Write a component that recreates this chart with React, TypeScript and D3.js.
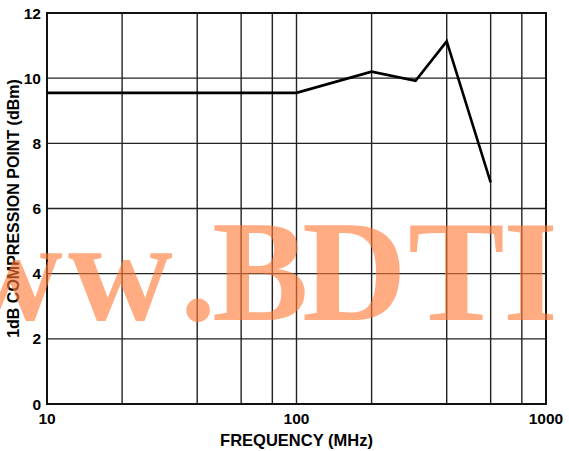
import React, { useEffect, useRef } from "react";
import * as d3 from "d3";

const freqs = [10, 100, 200, 300, 400, 600];
const p1db = [9.55, 9.55, 10.2, 9.92, 11.13, 6.8];
const yTicks = [0, 2, 4, 6, 8, 10, 12];
const xGrid = [20, 40, 60, 80, 100, 200, 400, 600, 800];
const xLabels = [10, 100, 1000];

const App = () => {
  const ref = useRef<SVGSVGElement>(null);

  useEffect(() => {
    document.body.style.margin = "0";
    const width = 569;
    const height = 451;
    const margin = { top: 13, right: 23, bottom: 47, left: 47 };

    const svg = d3.select(ref.current).attr("width", width).attr("height", height);
    svg.selectAll("*").remove();

    const x = d3.scaleLog().domain([10, 1000]).range([margin.left, width - margin.right]);
    const y = d3.scaleLinear().domain([0, 12]).range([height - margin.bottom, margin.top]);

    const font = "'Liberation Sans', Arial, sans-serif";

    // grid
    svg.append("g")
      .selectAll("line")
      .data(xGrid)
      .enter()
      .append("line")
      .attr("x1", d => x(d))
      .attr("x2", d => x(d))
      .attr("y1", y(0))
      .attr("y2", y(12))
      .attr("stroke", "#222")
      .attr("stroke-width", 1.4);

    svg.append("g")
      .selectAll("line")
      .data(yTicks)
      .enter()
      .append("line")
      .attr("x1", x(10))
      .attr("x2", x(1000))
      .attr("y1", d => y(d))
      .attr("y2", d => y(d))
      .attr("stroke", "#222")
      .attr("stroke-width", 1.4);

    svg.append("rect")
      .attr("x", x(10))
      .attr("y", y(12))
      .attr("width", x(1000) - x(10))
      .attr("height", y(0) - y(12))
      .attr("fill", "none")
      .attr("stroke", "#111")
      .attr("stroke-width", 2);

    // data line
    const line = d3.line<number>()
      .x((d, i) => x(freqs[i]))
      .y(d => y(d));

    svg.append("path")
      .datum(p1db)
      .attr("d", line)
      .attr("fill", "none")
      .attr("stroke", "#000")
      .attr("stroke-width", 2.6)
      .attr("stroke-linejoin", "miter");

    // tick labels
    svg.append("g")
      .selectAll("text")
      .data(yTicks)
      .enter()
      .append("text")
      .attr("x", x(10) - 6)
      .attr("y", d => y(d))
      .attr("dy", "0.36em")
      .attr("text-anchor", "end")
      .attr("font-family", font)
      .attr("font-weight", "bold")
      .attr("font-size", 15.5)
      .text(d => d);

    svg.append("g")
      .selectAll("text")
      .data(xLabels)
      .enter()
      .append("text")
      .attr("x", d => x(d))
      .attr("y", y(0) + 20)
      .attr("text-anchor", "middle")
      .attr("font-family", font)
      .attr("font-weight", "bold")
      .attr("font-size", 15.5)
      .text(d => d);

    svg.append("text")
      .attr("x", (x(10) + x(1000)) / 2)
      .attr("y", height - 5)
      .attr("text-anchor", "middle")
      .attr("font-family", font)
      .attr("font-weight", "bold")
      .attr("font-size", 16.5)
      .text("FREQUENCY (MHz)");

    svg.append("text")
      .attr("transform", `translate(19, ${(y(0) + y(12)) / 2}) rotate(-90)`)
      .attr("text-anchor", "middle")
      .attr("font-family", font)
      .attr("font-weight", "bold")
      .attr("font-size", 16)
      .text("1dB COMPRESSION POINT (dBm)");

    // watermark (per-glyph placement, clipped at the right like the scan)
    svg.append("clipPath")
      .attr("id", "wm-clip")
      .append("rect")
      .attr("x", 0)
      .attr("y", 0)
      .attr("width", 553)
      .attr("height", height);

    svg.append("text")
      .attr("clip-path", "url(#wm-clip)")
      .attr("x", "-152 -42 68 180 212 302 408 503 546")
      .attr("y", 320)
      .attr("font-family", "'Liberation Serif', 'Times New Roman', serif")
      .attr("font-weight", "bold")
      .attr("font-size", 145)
      .attr("fill", "#ff7a36")
      .attr("opacity", 0.62)
      .text("www.BDTIC");
  }, []);

  return <svg ref={ref}></svg>;
};

export default App;
